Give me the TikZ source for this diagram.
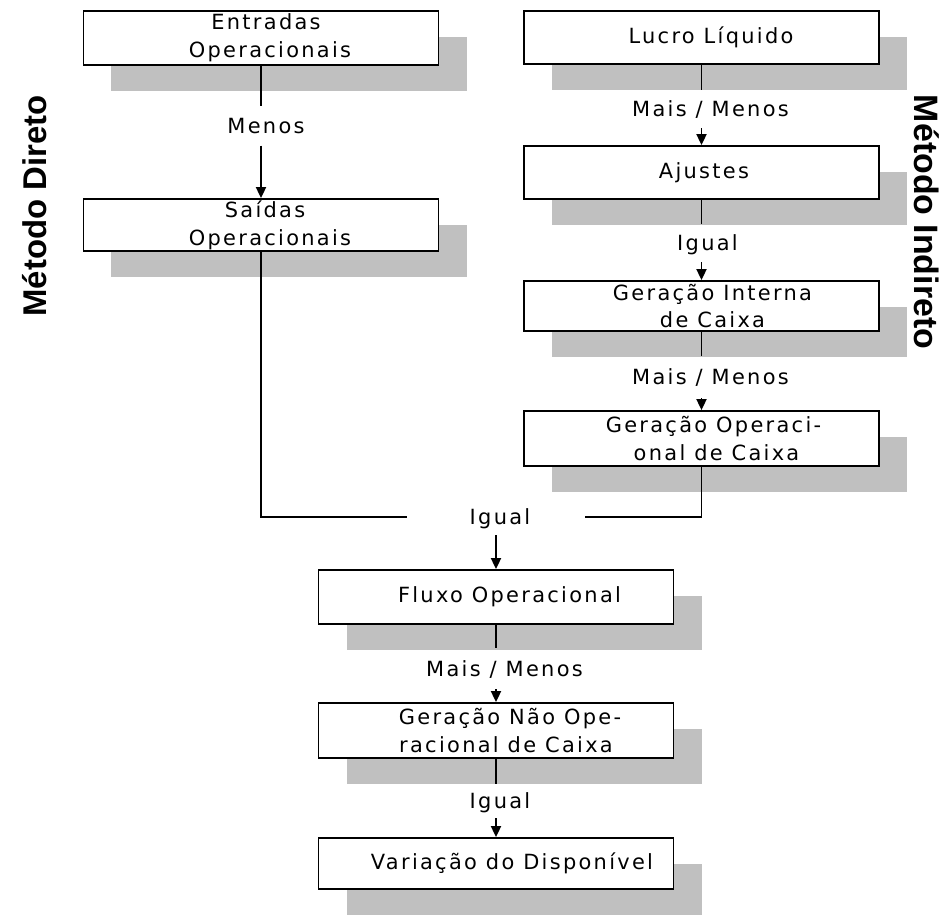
\documentclass[tikz,border=0pt]{standalone}
\usepackage{fontspec}
\setmainfont{DejaVu Sans}
\newfontfamily\boxfont[LetterSpace=11]{DejaVu Sans}
\newfontfamily\titlefont{Liberation Sans}
\usetikzlibrary{arrows.meta,shadows}
\definecolor{shadowgray}{RGB}{192,192,192}
\newcommand\shft[1]{\hspace*{#1bp}}
\tikzset{
  stepbox/.style={draw, line width=1.8bp, fill=white, minimum width=355bp, inner sep=0pt, align=center,
    font=\boxfont\fontsize{21}{28}\selectfont,
    general shadow={fill=shadowgray, shadow xshift=28bp, shadow yshift=-26bp}},
  oplabel/.style={inner sep=0pt, font=\boxfont\fontsize{21}{28}\selectfont, text height=15bp, text depth=0pt},
  conn/.style={line width=1.8bp},
  arr/.style={conn, -{Triangle[width=10bp,length=11bp]}},
  method/.style={font=\titlefont\bfseries\fontsize{33}{40}\selectfont, text height=24bp, text depth=0pt, inner sep=0pt}
}
\begin{document}
\begin{tikzpicture}[x=1bp,y=-1bp]
\useasboundingbox (0,0) rectangle (946,916);
% boxes
\node[stepbox, minimum height=54bp] (entr) at (261,38) {\shft{10}Entradas\\\shft{18}Operacionais};
\node[stepbox, minimum height=52bp] (said) at (261,225) {\shft{8}Saídas\\\shft{18}Operacionais};
\node[stepbox, minimum height=53bp] (lucro) at (701.5,37.5) {\shft{19}Lucro Líquido};
\node[stepbox, minimum height=53bp] (ajus) at (701.5,172.5) {\shft{5}Ajustes};
\node[stepbox, minimum height=50bp] (gint) at (701.5,306) {\shft{22}Geração Interna\\\shft{22}de Caixa};
\node[stepbox, minimum height=55bp] (gop) at (701.5,438.5) {\shft{24}Geração Operaci-\\\shft{30}onal de Caixa};
\node[stepbox, minimum height=54bp] (fluxo) at (496,597) {\shft{27}Fluxo Operacional};
\node[stepbox, minimum height=55bp] (gnop) at (496,730.5) {\shft{28}Geração Não Ope-\\\shft{20}racional de Caixa};
\node[stepbox, minimum height=51bp] (var) at (496,863.5) {\shft{32}Variação do Disponível};
% labels
\node[oplabel, minimum height=39bp] (menos) at (261,126) {\shft{10}Menos};
\node[oplabel, minimum height=38bp] (mm1) at (701.5,109) {\shft{18}Mais / Menos};
\node[oplabel, minimum height=38bp] (ig1) at (701.5,243) {\shft{12}Igual};
\node[oplabel, minimum height=42bp] (mm2) at (701.5,377) {\shft{18}Mais / Menos};
\node[oplabel, minimum height=36bp, minimum width=177bp] (ig2) at (496,517) {\shft{8}Igual};
\node[oplabel, minimum height=41bp] (mm3) at (496,668.5) {\shft{17}Mais / Menos};
\node[oplabel, minimum height=34bp] (ig3) at (496,801) {\shft{8}Igual};
% side titles
\node[method, rotate=90] (mdir) at (34,206) {Método Direto};
\node[method, rotate=-90, font=\titlefont\bfseries\fontsize{34}{40}\selectfont] (mind) at (926,222) {Método Indireto};
% connectors
\draw[conn] (entr.south) -- (menos.north);
\draw[arr] (menos.south) -- (said.north);
\draw[conn] (lucro.south) -- (mm1.north);
\draw[arr] (mm1.south) -- (ajus.north);
\draw[conn] (ajus.south) -- (ig1.north);
\draw[arr] (ig1.south) -- (gint.north);
\draw[conn] (gint.south) -- (mm2.north);
\draw[arr] (mm2.south) -- (gop.north);
\draw[conn] (said.south) |- (ig2.west);
\draw[conn] (gop.south) |- (ig2.east);
\draw[arr] (ig2.south) -- (fluxo.north);
\draw[conn] (fluxo.south) -- (mm3.north);
\draw[arr] (mm3.south) -- (gnop.north);
\draw[conn] (gnop.south) -- (ig3.north);
\draw[arr] (ig3.south) -- (var.north);
\end{tikzpicture}
\end{document}
